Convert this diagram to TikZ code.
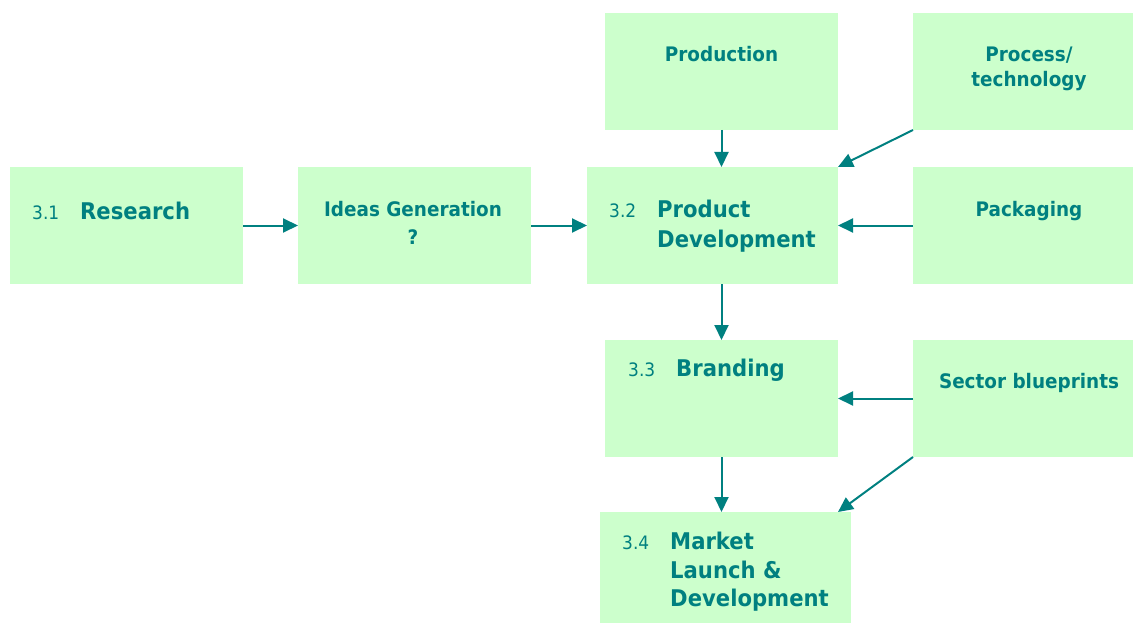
\documentclass[tikz,border=0pt]{standalone}
\usepackage{fontspec}
\setmainfont{DejaVu Sans}[FakeStretch=0.92]
\usetikzlibrary{arrows.meta}
\definecolor{tealc}{HTML}{008080}
\definecolor{boxfill}{HTML}{CCFFCC}
\begin{document}
\begin{tikzpicture}[x=1pt,y=-1pt,
  box/.style={fill=boxfill,draw=none,inner sep=0pt,outer sep=0pt,anchor=north west},
  big/.style={font=\fontsize{23}{28}\selectfont\bfseries,text=tealc,inner sep=0pt,anchor=base west},
  small/.style={font=\fontsize{20}{25}\selectfont\bfseries,text=tealc,inner sep=0pt,anchor=base},
  num/.style={font=\fontsize{18.5}{20}\selectfont,text=tealc,inner sep=0pt,anchor=base west},
  arr/.style={draw=tealc,line width=2pt,-{Triangle[length=15pt,width=14pt]}}]
\useasboundingbox (0,0) rectangle (1133,623);
% boxes
\node[box,minimum width=233pt,minimum height=117pt] (res) at (10,167) {};
\node[box,minimum width=233pt,minimum height=117pt] (ideas) at (298,167) {};
\node[box,minimum width=251pt,minimum height=117pt] (pd) at (587,167) {};
\node[box,minimum width=233pt,minimum height=117pt] (prod) at (605,13) {};
\node[box,minimum width=220pt,minimum height=117pt] (proc) at (913,13) {};
\node[box,minimum width=220pt,minimum height=117pt] (pack) at (913,167) {};
\node[box,minimum width=233pt,minimum height=117pt] (br) at (605,340) {};
\node[box,minimum width=220pt,minimum height=117pt] (sec) at (913,340) {};
\node[box,minimum width=251pt,minimum height=111pt] (mk) at (600,512) {};
% texts
\node[num] (n31) at (32,219) {3.1};
\node[big] (tres) at (80,219) {Research};
\node[small] (tideas1) at (413,216) {Ideas Generation};
\node[small] (tideas2) at (413,244) {?};
\node[num] (n32) at (609,218) {3.2};
\node[big] (tpd1) at (657,218) {Product};
\node[big] (tpd2) at (657,247) {Development};
\node[small] (tprod) at (721.5,62) {Production};
\node[small] (tproc1) at (1029,62) {Process/};
\node[small] (tproc2) at (1029,87) {technology};
\node[small] (tpack) at (1029,216) {Packaging};
\node[num] (n33) at (628,376) {3.3};
\node[big] (tbr) at (676,376) {Branding};
\node[small] (tsec) at (1029,388) {Sector blueprints};
\node[num] (n34) at (622,549) {3.4};
\node[big] (tmk1) at (670,549) {Market};
\node[big] (tmk2) at (670,578) {Launch \&};
\node[big] (tmk3) at (670,606) {Development};
% arrows
\draw[arr] (res.east) -- (ideas.west);
\draw[arr] (ideas.east) -- (pd.west);
\draw[arr] (prod.south) -- (prod.south |- pd.north);
\draw[arr] (proc.south west) -- (pd.north east);
\draw[arr] (pack.west) -- (pd.east);
\draw[arr] (pd.south -| br.north) -- (br.north);
\draw[arr] (sec.west) -- (br.east);
\draw[arr] (br.south) -- (br.south |- mk.north);
\draw[arr] (sec.south west) -- (br.east |- mk.north);
\end{tikzpicture}
\end{document}
